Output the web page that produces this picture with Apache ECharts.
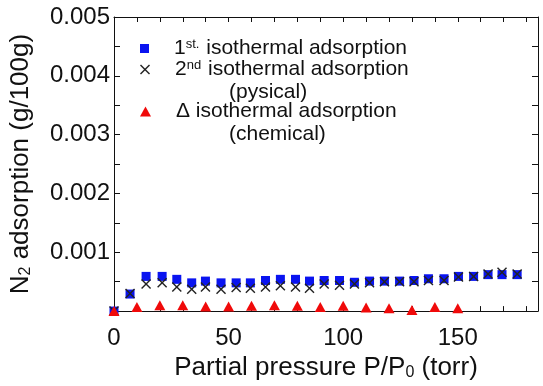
<!DOCTYPE html>
<html>
<head>
<meta charset="utf-8">
<script src="https://cdn.jsdelivr.net/npm/echarts@6/dist/echarts.min.js"></script>
<style>
  html, body { margin: 0; padding: 0; background: #fff; }
  #chart { width: 543px; height: 386px; }
</style>
</head>
<body>
<div id="chart"></div>
<script>
// Partial pressure (torr) for the 1st / 2nd isotherm runs
const pressureRuns = [0, 7.0, 14.0, 21.0, 27.4, 33.9, 39.9, 46.7, 53.3, 59.5, 66.1, 72.6, 79.2, 85.3,
  91.7, 98.4, 104.9, 111.5, 118.0, 124.6, 130.9, 137.2, 144.0, 150.3, 156.9, 163.2, 169.3, 175.9];
// N2 adsorption (g/100g), 1st isothermal run
const firstRun = [0, 0.00029, 0.00059, 0.00059, 0.00054, 0.00048, 0.00051, 0.00048, 0.00048, 0.00048,
  0.00052, 0.00054, 0.00054, 0.00051, 0.00052, 0.00052, 0.00049, 0.00051, 0.00051, 0.00051, 0.00052,
  0.00055, 0.00055, 0.00059, 0.00059, 0.00062, 0.00062, 0.00062];
// N2 adsorption (g/100g), 2nd isothermal run (physical)
const secondRun = [0, 0.00030, 0.00046, 0.00048, 0.00041, 0.00037, 0.00041, 0.00037, 0.00040, 0.00039,
  0.00041, 0.00043, 0.00041, 0.00039, 0.00046, 0.00044, 0.00046, 0.00048, 0.00050, 0.00050, 0.00050,
  0.00052, 0.00052, 0.00058, 0.00059, 0.00063, 0.00066, 0.00063];
// Difference (chemical adsorption)
const pressureDelta = [0, 10, 20, 30, 40, 50, 60, 70, 80, 90, 100, 110, 120, 130, 140, 150];
const deltaRun = [0, 0.00007, 0.00010, 0.00010, 0.00008, 0.00008, 0.00009, 0.00010, 0.00009, 0.00007,
  0.00009, 0.00006, 0.00005, 0.00002, 0.00007, 0.00005];

const xLabels = [0, 50, 100, 150];
const yLabels = [0.001, 0.002, 0.003, 0.004, 0.005];

const FONT = "'Liberation Sans', Arial, sans-serif";
const crossPath = 'path://M0,1 L1,0 L5,4 L9,0 L10,1 L6,5 L10,9 L9,10 L5,6 L1,10 L0,9 L4,5 Z';

const pair = (xs, ys) => xs.map((x, i) => [x, ys[i]]);

const legendRich = {
  n: { fontSize: 21, fontFamily: FONT, color: '#111' },
  sup: { fontSize: 13, fontFamily: FONT, color: '#111', verticalAlign: 'top', padding: [0, 1, 0, 0] }
};
const legendLabels = {
  first: '{n|1}{sup|st.}{n| isothermal adsorption}',
  second: '{n|2}{sup|nd}{n| isothermal adsorption}',
  delta: '{n|\u0394 isothermal adsorption}'
};
function legendAt(name, top, w, h) {
  return {
    data: [name], left: 140, top: top, padding: 0, itemWidth: w, itemHeight: h, orient: 'vertical',
    formatter: n => legendLabels[n],
    textStyle: { rich: legendRich, padding: [0, 0, 0, 20] }
  };
}

const nameRich = {
  n: { fontSize: 26, fontFamily: FONT, color: '#111' },
  s: { fontSize: 16, fontFamily: FONT, color: '#111', verticalAlign: 'bottom', padding: [9, 0, 0, 0] }
};
const axisLine = { onZero: false, lineStyle: { color: '#111', width: 1 } };
const tickIn = len => ({ inside: true, length: len, lineStyle: { color: '#111', width: 1 } });

const chart = echarts.init(document.getElementById('chart'));
chart.setOption({
  animation: false,
  grid: { left: 113, right: 5, top: 17, bottom: 65 },
  legend: [
    legendAt('first', 38, 9, 9),
    legendAt('second', 59, 10, 10),
    legendAt('delta', 101, 11, 10)
  ],
  graphic: [
    { type: 'text', left: 229, top: 82, style: { text: '(pysical)', font: '21px ' + FONT, fill: '#111' } },
    { type: 'text', left: 229, top: 124, style: { text: '(chemical)', font: '21px ' + FONT, fill: '#111' } }
  ],
  xAxis: [{
    type: 'value', min: 0, max: 185, interval: 10,
    name: '{n|Partial pressure P/P}{s|0}{n| (torr)}', nameLocation: 'middle', nameGap: 42,
    nameTextStyle: { rich: nameRich },
    axisLine: axisLine, axisTick: tickIn(5), splitLine: { show: false },
    axisLabel: {
      fontSize: 24, fontFamily: FONT, color: '#111', margin: 15, showMaxLabel: false,
      formatter: v => (xLabels.includes(v) ? String(v) : '')
    }
  }, {
    type: 'value', min: 0, max: 185, interval: 10, position: 'top',
    axisLine: axisLine, axisTick: tickIn(5), axisLabel: { show: false }, splitLine: { show: false }
  }],
  yAxis: [{
    type: 'value', min: 0, max: 0.005, interval: 0.0005,
    name: '{n|N}{s|2}{n| adsorption (g/100g)}', nameLocation: 'middle', nameGap: 80,
    nameTextStyle: { rich: nameRich },
    axisLine: axisLine, axisTick: tickIn(6), splitLine: { show: false },
    axisLabel: {
      fontSize: 24, fontFamily: FONT, color: '#111', margin: 4,
      formatter: v => {
        const hit = yLabels.find(t => Math.abs(t - v) < 1e-9);
        return hit ? hit.toFixed(3) : '';
      }
    }
  }, {
    type: 'value', min: 0, max: 0.005, interval: 0.0005, position: 'right',
    axisLine: axisLine, axisTick: tickIn(6), axisLabel: { show: false }, splitLine: { show: false }
  }],
  series: [
    {
      name: 'first', type: 'scatter', data: pair(pressureRuns, firstRun),
      symbol: 'rect', symbolSize: 9, itemStyle: { color: '#0a14f0', opacity: 1 }, z: 2
    },
    {
      name: 'second', type: 'scatter', data: pair(pressureRuns, secondRun),
      symbol: crossPath, symbolSize: 10, itemStyle: { color: '#222', opacity: 1 }, z: 3
    },
    {
      name: 'delta', type: 'scatter', data: pair(pressureDelta, deltaRun),
      symbol: 'triangle', symbolSize: [11, 10], itemStyle: { color: '#f00a0a', opacity: 1 }, z: 4
    }
  ]
});
</script>
</body>
</html>
